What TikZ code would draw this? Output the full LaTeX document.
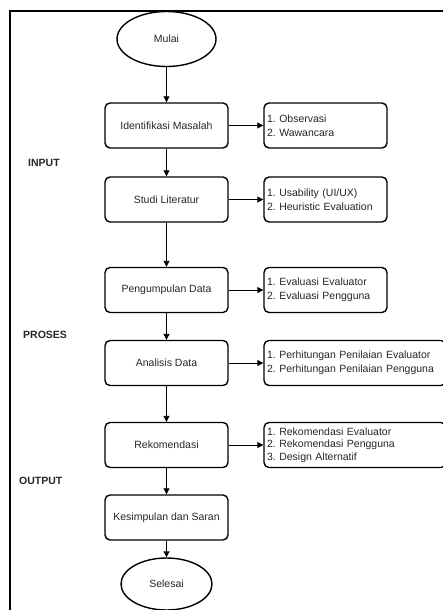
\documentclass[tikz,border=0pt]{standalone}
\usepackage{fontspec}
\setmainfont{Liberation Sans}
\usetikzlibrary{arrows.meta,shapes.geometric}
\frenchspacing

\tikzset{
	stepbox/.style={draw, line width=1.4pt, rounded corners=5pt, minimum width=123pt, minimum height=45pt, inner sep=2pt},
	listbox/.style={draw, line width=1.4pt, rounded corners=5pt, minimum height=45pt, text width=#1, align=left, inner xsep=3pt, inner ysep=2pt},
	terminal/.style={draw, ellipse, line width=1.4pt, inner sep=0pt},
	phase/.style={anchor=west, inner sep=0pt, font=\fontsize{10.5}{12}\selectfont\bfseries},
	flow/.style={-{Triangle[length=6pt,width=6pt]}, line width=0.9pt}
}

\begin{document}
\begin{tikzpicture}[x=1pt, y=-1pt, every node/.style={font=\fontsize{10.5}{14.5}\selectfont, text=black!85}]
	\useasboundingbox (0,0) rectangle (442,610);
	\draw[line width=1.2pt] (446,11) -- (10,11) -- (10,614);
	\node[terminal, minimum width=99pt, minimum height=55pt] (mulai) at (166.5,39) {Mulai};
	\foreach \nm/\y/\txt in {idm/125.5/Identifikasi Masalah, stl/199.5/Studi Literatur, pgd/290/Pengumpulan Data, anl/363/Analisis Data, rek/445/Rekomendasi, kes/517.5/Kesimpulan dan Saran} {
		\node[stepbox] (\nm) at (166.5,\y) {\txt};
	}
	\node[terminal, minimum width=91pt, minimum height=52pt] (selesai) at (166.5,584) {Selesai};
	% daftar di sebelah kanan
	\node[listbox=117pt] (obs) at (325.5,125.5) {1. Observasi\\2. Wawancara};
	\node[listbox=117pt] (usb) at (325.5,199.5) {1. Usability (UI/UX)\\2. Heuristic Evaluation};
	\node[listbox=117pt] (eva) at (325.5,290) {1. Evaluasi Evaluator\\2. Evaluasi Pengguna};
	\node[listbox=176pt] (hit) at (355,363) {1. Perhitungan Penilaian Evaluator\\2. Perhitungan Penilaian Pengguna};
	\node[listbox=176pt, font=\fontsize{10.5}{12.7}\selectfont] (rkm) at (355,445) {1. Rekomendasi Evaluator\\2. Rekomendasi Pengguna\\3. Design Alternatif};
	\node[phase] (inp) at (28,163) {INPUT};
	\node[phase] (prs) at (23,335) {PROSES};
	\node[phase] (out) at (19,481) {OUTPUT};
	\foreach \a/\b in {mulai/idm, idm/stl, stl/pgd, pgd/anl, anl/rek, rek/kes, kes/selesai, idm/obs, stl/usb, pgd/eva, anl/hit, rek/rkm} {\draw[flow] (\a) -- (\b);}
\end{tikzpicture}
\end{document}
